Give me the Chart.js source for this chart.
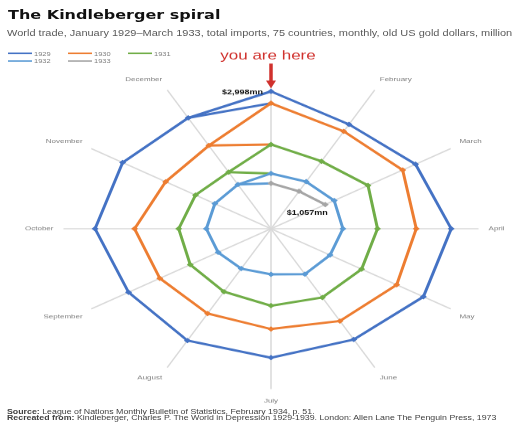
<!DOCTYPE html>
<html>
<head>
<meta charset="utf-8">
<script src="https://cdn.jsdelivr.net/npm/chart.js@4.4.1/dist/chart.umd.min.js"></script>
<style>
  html, body { margin: 0; padding: 0; background: #fff; overflow: hidden; }
  /* the reference is squashed vertically, so the whole page is drawn taller and scaled down */
  #page { position: relative; width: 512px; height: 550px; transform: scaleY(0.7727); transform-origin: 0 0;
          font-family: "Liberation Sans", Arial, sans-serif; }
  #title { position: absolute; left: 8px; top: 10px; font: bold 16px "DejaVu Sans", sans-serif; color: #111; white-space: nowrap; }
  #subtitle { position: absolute; left: 7px; top: 36px; font-size: 11px; color: #595959; white-space: nowrap; }
  #legend { position: absolute; left: 8px; top: 64px; width: 200px; font-size: 7.5px; color: #7f7f7f; }
  .item { position: absolute; display: flex; align-items: center; height: 10px; }
  .item span.sw { display: inline-block; width: 24px; height: 2.5px; margin-right: 2px; }
  #footer { position: absolute; left: 7px; top: 529px; font-size: 8.8px; line-height: 8px; color: #404040; white-space: nowrap; }
  #wrap { position: absolute; left: 0; top: 26px; width: 512px; height: 540px; }
</style>
</head>
<body>
<div id="page">
  <div id="title">The Kindleberger spiral</div>
  <div id="subtitle">World trade, January 1929–March 1933, total imports, 75 countries, monthly, old US gold dollars, millions</div>
  <div id="legend"></div>
  <div id="wrap"><canvas id="chart"></canvas></div>
  <div id="footer">
    <div><b>Source:</b> League of Nations Monthly Bulletin of Statistics, February 1934, p. 51.</div>
    <div><b>Recreated from:</b> Kindleberger, Charles P. The World in Depression 1929-1939. London: Allen Lane The Penguin Press, 1973</div>
  </div>
</div>
<script>
const months = ['January', 'February', 'March', 'April', 'May', 'June', 'July', 'August', 'September', 'October', 'November', 'December'];
const years = ['1929', '1930', '1931', '1932', '1933'];
const colors = ['#4472C4', '#ED7D31', '#70AD47', '#5B9BD5', '#A5A5A5'];

// total imports, millions of old US gold dollars
const imp1929 = [2997.7, 2630.3, 2814.8, 3039.1, 2967.6, 2791.0, 2813.9, 2818.5, 2773.9, 2966.8, 2888.9, 2793.9];
const imp1930 = [2738.9, 2454.6, 2563.9, 2449.9, 2447.0, 2325.7, 2189.5, 2137.7, 2164.8, 2300.8, 2051.3, 2095.9];
const imp1931 = [1838.9, 1700.5, 1889.1, 1796.4, 1764.3, 1732.3, 1679.6, 1585.8, 1572.1, 1556.3, 1470.0, 1426.9];
const imp1932 = [1206.0, 1186.7, 1230.4, 1212.8, 1150.5, 1144.7, 993.7, 1004.6, 1029.6, 1090.4, 1093.3, 1114.2];
const imp1933 = [992.4, 944.0, 1056.9, null, null, null, null, null, null, null, null, null];
const scaleMax = 3500;

const series = [imp1929, imp1930, imp1931, imp1932, imp1933];
const red = '#d0312d';

// legend
const legend = document.getElementById('legend');
years.forEach((y, i) => {
  const d = document.createElement('div');
  d.className = 'item';
  d.style.left = (i < 3 ? i * 60 : (i - 3) * 60) + 'px';
  d.style.top = (i < 3 ? 0 : 10) + 'px';
  d.innerHTML = '<span class="sw" style="background:' + colors[i] + '"></span>' + y;
  legend.appendChild(d);
});

// the spiral: each year is one ring, its closing segment is hidden
const datasets = series.map((data, i) => ({
  label: years[i],
  data: data,
  borderColor: colors[i],
  backgroundColor: colors[i],
  borderWidth: 3,
  pointStyle: 'rectRot',
  pointRadius: 3.5,
  pointBorderWidth: 0,
  fill: false,
  segment: {
    borderColor: ctx => (ctx.p0DataIndex === 11 && ctx.p1DataIndex === 0) ? 'rgba(0,0,0,0)' : undefined
  }
}));

// December of one year joined to January of the next
for (let i = 0; i < series.length - 1; i++) {
  const a = series[i], b = series[i + 1];
  datasets.push({
    label: years[i] + '-link',
    data: months.map((m, k) => k === 0 ? b[0] : (k === 11 ? a[11] : null)),
    borderColor: colors[i],
    borderWidth: 3,
    pointRadius: 0,
    fill: false
  });
}

const annotate = {
  id: 'annotate',
  afterDatasetsDraw(chart) {
    const r = chart.scales.r;
    const ctx = chart.ctx;
    const top = r.getPointPositionForValue(0, imp1929[0]);
    const last = r.getPointPositionForValue(2, imp1933[2]);
    ctx.save();
    ctx.fillStyle = '#111';
    ctx.font = 'bold 9px "Liberation Sans", Arial, sans-serif';
    ctx.textBaseline = 'middle';
    ctx.textAlign = 'right';
    ctx.fillText('$2,998mn', top.x - 8, top.y + 1);
    ctx.textAlign = 'center';
    ctx.fillText('$1,057mn', last.x - 18, last.y + 11);
    // arrow
    ctx.strokeStyle = red;
    ctx.fillStyle = red;
    ctx.lineWidth = 3.5;
    ctx.beginPath();
    ctx.moveTo(top.x, top.y - 36);
    ctx.lineTo(top.x, top.y - 12);
    ctx.stroke();
    ctx.beginPath();
    ctx.moveTo(top.x - 5, top.y - 14);
    ctx.lineTo(top.x + 5, top.y - 14);
    ctx.lineTo(top.x, top.y - 4);
    ctx.closePath();
    ctx.fill();
    ctx.font = '17px "Liberation Sans", Arial, sans-serif';
    ctx.fillText('you are here', top.x - 3, top.y - 46);
    ctx.restore();
  }
};

Chart.defaults.font.family = '"Liberation Sans", Arial, sans-serif';

new Chart(document.getElementById('chart'), {
  type: 'radar',
  data: { labels: months, datasets: datasets },
  options: {
    responsive: true,
    maintainAspectRatio: false,
    animation: false,
    events: [],
    layout: { padding: { left: 19, right: 1, top: 0, bottom: 0 } },
    plugins: { legend: { display: false }, tooltip: { enabled: false } },
    elements: { line: { tension: 0 } },
    scales: {
      r: {
        min: 0,
        max: scaleMax,
        ticks: { display: false },
        grid: { display: false },
        angleLines: { color: '#d9d9d9', lineWidth: 1.5 },
        pointLabels: {
          padding: 10,
          color: '#7f7f7f',
          font: { size: 8 },
          callback: (label, i) => i === 0 ? '' : label
        }
      }
    }
  },
  plugins: [annotate]
});
</script>
</body>
</html>
